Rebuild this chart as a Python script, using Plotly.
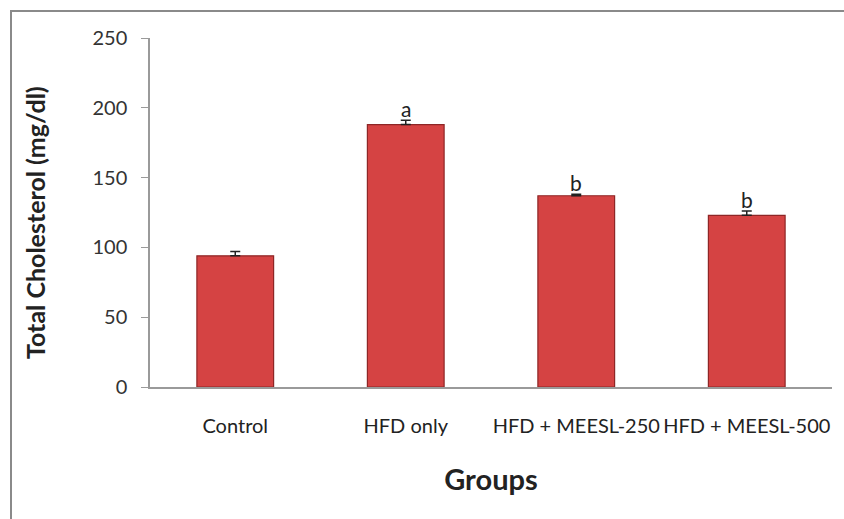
import plotly.graph_objects as go

groups = ["Control", "HFD only", "HFD + MEESL-250", "HFD + MEESL-500"]
values = [94, 188, 137, 123]
errors = [3, 3, 1, 3]
letters = ["", "a", "b", "b"]

y_ticks = [0, 50, 100, 150, 200, 250]

FONT = "Lato, Open Sans, sans-serif"

fig = go.Figure()
fig.add_trace(go.Bar(
    x=groups, y=values,
    marker=dict(color="#D54343", line=dict(color="#8E2626", width=1.2)),
    error_y=dict(type="data", array=errors, symmetric=False, arrayminus=[0]*4,
                 color="#222222", thickness=1.5, width=5, visible=True),
    width=0.45,
))

for g, v, e, t in zip(groups, values, errors, letters):
    if t:
        fig.add_annotation(x=g, y=v + e, text=t, showarrow=False, yanchor="bottom",
                           yshift=-3, font=dict(family=FONT, size=21, color="#222222"))

L, R, T, B = 150, 12, 38, 132
W, H = 844, 519
pw, ph = W - L - R, H - T - B

def px(xp):
    return (xp - L) / pw

def py(yp):
    return (H - B - yp) / ph

fig.add_shape(type="rect", xref="paper", yref="paper",
              x0=px(11), x1=px(850), y0=py(530), y1=py(11),
              line=dict(color="#8a8a8a", width=2), fillcolor="rgba(0,0,0,0)", layer="below")

fig.add_annotation(xref="paper", yref="paper", x=px(35), y=py(223), textangle=-90,
                   text="<b>Total Cholesterol (mg/dl)</b>", showarrow=False,
                   xanchor="center", yanchor="middle",
                   font=dict(family=FONT, size=25, color="#222222"))

fig.update_layout(
    width=W, height=H,
    margin=dict(l=L, r=R, t=T, b=B),
    paper_bgcolor="white", plot_bgcolor="white",
    showlegend=False,
    font=dict(family=FONT, color="#333333"),
    xaxis=dict(showline=True, linecolor="#9a9a9a", linewidth=1.5, ticks="",
               tickfont=dict(size=20, color="#222222"), ticklabelstandoff=20,
               title=dict(text="<b>Groups</b>", font=dict(size=29, color="#222222"), standoff=34)),
    yaxis=dict(range=[0, 250], tickvals=y_ticks, showline=True, linecolor="#9a9a9a",
               linewidth=1.5, ticks="outside", ticklen=7, tickcolor="#9a9a9a",
               showgrid=False, zeroline=False,
               tickfont=dict(size=20, color="#333333"), ticklabelstandoff=10),
)

fig.write_html("out.html", config={"displayModeBar": False},
               post_script="document.body.style.margin='0';")
